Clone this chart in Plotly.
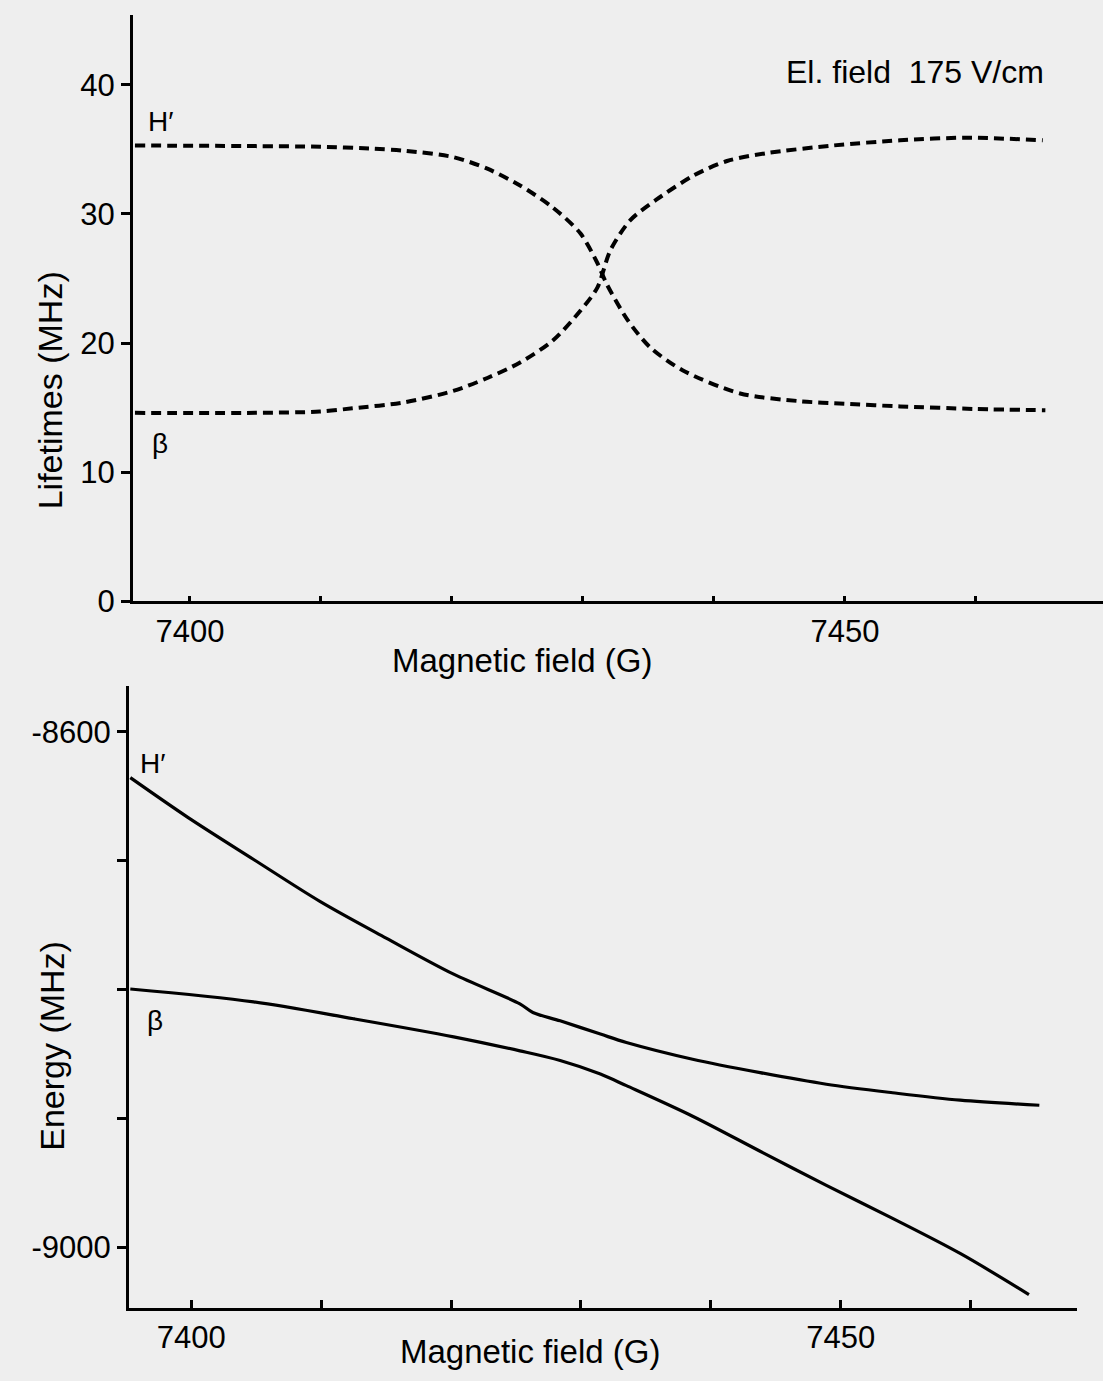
import plotly.graph_objects as go

# ---- Lifetimes vs magnetic field (El. field 175 V/cm) ----
life_h_field = [7395.8, 7405.0, 7410.0, 7414.0, 7416.3, 7420.1, 7422.7, 7425.2, 7427.7,
                7429.8, 7431.1, 7431.8, 7433.4, 7435.1, 7437.6, 7442.0, 7446.6, 7450.0,
                7454.2, 7460.0, 7465.3]
life_h_val = [35.3, 35.25, 35.2, 35.05, 34.9, 34.4, 33.5, 32.2, 30.5,
              28.5, 26.2, 24.6, 21.8, 19.7, 17.9, 16.1, 15.5, 15.3,
              15.1, 14.9, 14.8]

life_b_field = [7395.8, 7405.0, 7409.9, 7412.4, 7416.3, 7420.1, 7422.7, 7425.2, 7427.7,
                7429.8, 7431.1, 7432.1, 7433.6, 7435.6, 7438.5, 7441.0, 7444.0, 7449.1,
                7454.2, 7459.3, 7465.1]
life_b_val = [14.6, 14.6, 14.7, 14.95, 15.4, 16.3, 17.3, 18.5, 20.2,
              22.5, 24.3, 27.2, 29.5, 31.1, 33.0, 34.1, 34.7, 35.3,
              35.7, 35.9, 35.7]

# ---- Energy levels vs magnetic field ----
en_h_field = [7395.3, 7399.7, 7404.8, 7409.9, 7415.0, 7420.2, 7425.3, 7426.3, 7428.4,
              7431.5, 7433.5, 7438.6, 7443.8, 7448.9, 7454.0, 7459.2, 7465.3]
en_h_val = [-8635.5, -8666.1, -8699.0, -8731.5, -8760.0, -8788.0, -8811.0, -8817.7, -8824.2,
            -8834.5, -8841.0, -8854.0, -8864.4, -8873.4, -8880.0, -8885.8, -8889.7]

en_b_field = [7395.3, 7404.8, 7412.5, 7420.2, 7425.3, 7428.4, 7431.5, 7433.5, 7438.6,
              7443.8, 7448.9, 7454.0, 7459.2, 7464.5]
en_b_val = [-8799.5, -8809.5, -8822.6, -8836.6, -8847.5, -8855.0, -8865.5, -8874.5, -8898.2,
            -8925.4, -8951.9, -8977.5, -9004.7, -9036.6]

field_ticks = [7400, 7410, 7420, 7430, 7440, 7450, 7460]
field_labels = ["7400", "", "", "", "", "7450", ""]
life_ticks = [0, 10, 20, 30, 40]
life_labels = ["0", "10", "20", "30", "40"]
energy_ticks = [-8600, -8700, -8800, -8900, -9000]
energy_labels = ["-8600", "", "", "", "-9000"]

W, H = 1103, 1381
# vertical layout positions below are given on a 1362-px grid
H_GRID = 1362
BG = "#eeeeee"
FONT = "Liberation Sans, Arial, Helvetica, sans-serif"


def px(x):
    return x / W


def py(y):
    return 1 - y / H_GRID


fig = go.Figure()

dash_line = dict(color="black", width=4, dash="10px,6px")
fig.add_trace(go.Scatter(x=life_h_field, y=life_h_val, mode="lines",
                         line=dict(shape="spline", smoothing=0.8, **dash_line),
                         xaxis="x", yaxis="y", showlegend=False))
fig.add_trace(go.Scatter(x=life_b_field, y=life_b_val, mode="lines",
                         line=dict(shape="spline", smoothing=0.8, **dash_line),
                         xaxis="x", yaxis="y", showlegend=False))

solid_line = dict(color="black", width=3.2)
fig.add_trace(go.Scatter(x=en_h_field, y=en_h_val, mode="lines",
                         line=dict(shape="spline", smoothing=0.9, **solid_line),
                         xaxis="x2", yaxis="y2", showlegend=False))
fig.add_trace(go.Scatter(x=en_b_field, y=en_b_val, mode="lines",
                         line=dict(shape="spline", smoothing=0.9, **solid_line),
                         xaxis="x2", yaxis="y2", showlegend=False))

axis_common = dict(showline=True, linecolor="black", linewidth=3, showgrid=False,
                   zeroline=False, tickcolor="black", tickwidth=2.5,
                   tickfont=dict(family=FONT, size=31, color="black"))

fig.update_layout(
    width=W, height=H,
    margin=dict(l=0, r=0, t=0, b=0),
    paper_bgcolor=BG, plot_bgcolor=BG,
    font=dict(family=FONT, color="black"),
    xaxis=dict(domain=[px(133), 1.0], range=[7395.65, 7469.7], anchor="y",
               tickmode="array", tickvals=field_ticks, ticktext=field_labels,
               ticks="inside", ticklen=5, ticklabelstandoff=0, **axis_common),
    yaxis=dict(domain=[py(601), py(15)], range=[0, 45.4], anchor="x",
               tickmode="array", tickvals=life_ticks, ticktext=life_labels,
               ticks="outside", ticklen=9, **axis_common),
    xaxis2=dict(domain=[px(129), px(1077)], range=[7395.2, 7468.2], anchor="y2",
                tickmode="array", tickvals=field_ticks, ticktext=field_labels,
                ticks="inside", ticklen=8, ticklabelstandoff=0, **axis_common),
    yaxis2=dict(domain=[py(1307), py(685)], range=[-9047, -8564], anchor="x2",
                tickmode="array", tickvals=energy_ticks, ticktext=energy_labels,
                ticks="outside", ticklen=9, **axis_common),
)

annotations = [
    # axis titles
    dict(text="Magnetic field (G)", x=px(522), y=py(660), size=33, angle=0),
    dict(text="Magnetic field (G)", x=px(530), y=py(1351), size=33, angle=0),
    dict(text="Lifetimes (MHz)", x=px(50), y=py(390), size=34, angle=-90),
    dict(text="Energy (MHz)", x=px(52), y=py(1045), size=34, angle=-90),
    # field condition
    dict(text="El. field  175 V/cm", x=px(915), y=py(72), size=32, angle=0),
    # curve labels
    dict(text="H′", x=px(160), y=py(121), size=28, angle=0),
    dict(text="β", x=px(160), y=py(443), size=28, angle=0),
    dict(text="H′", x=px(152), y=py(763), size=28, angle=0),
    dict(text="β", x=px(155), y=py(1020), size=28, angle=0),
]
for a in annotations:
    fig.add_annotation(text=a["text"], x=a["x"], y=a["y"], xref="paper", yref="paper",
                       xanchor="center", yanchor="middle", showarrow=False,
                       textangle=a["angle"],
                       font=dict(family=FONT, size=a["size"], color="black"))

fig.write_html("out.html")
